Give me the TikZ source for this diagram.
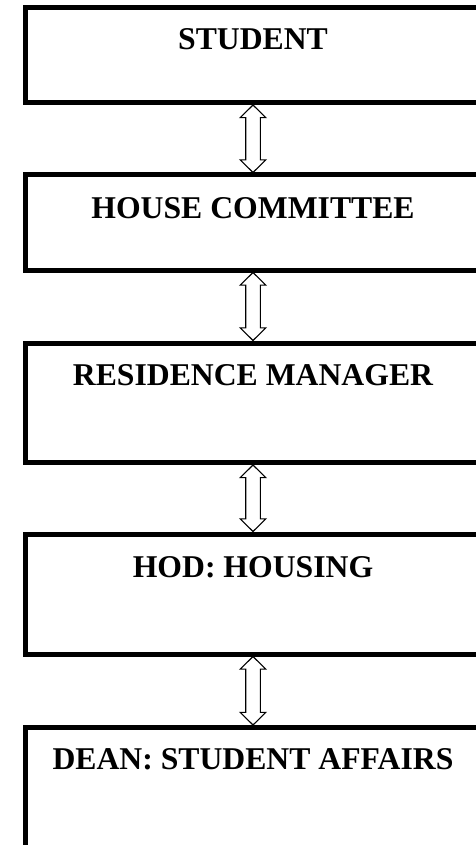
\documentclass[tikz,border=0pt]{standalone}
\usepackage{fontspec}
\setmainfont{Liberation Serif}
\usetikzlibrary{calc}
\tikzset{
  box/.style={draw=black, line width=5pt, rectangle, minimum width=456pt, outer sep=0pt, inner sep=0pt},
  lbl/.style={font=\fontsize{31.7}{36}\selectfont\bfseries, inner sep=0pt, anchor=base},
  dblarrow/.style={draw=black, line width=1.1pt, fill=white, line join=miter}
}
\newcommand{\linkarrow}[2]{%
  \draw[dblarrow]
    ($(#1.south)+(0,2.5)$) coordinate (t)
    -- ++(12.7,12.6) -- ++(-5.4,0) |- ($(#2.north)+(7.3,-15.1)$)
    -- ++(5.4,0) -- ($(#2.north)+(0,-2.5)$)
    -- ++(-12.7,-12.6) -- ++(5.4,0) |- ($(t)+(-7.3,12.6)$)
    -- ++(-5.4,0) -- cycle;}
\begin{document}
\begin{tikzpicture}[x=1pt,y=-1pt]
\useasboundingbox (0,0) rectangle (475,845);
\node[box, minimum height=95pt]    (b1) at (253,55) {};
\node[box, minimum height=95pt]    (b2) at (253,222.5) {};
\node[box, minimum height=119.5pt] (b3) at (253,402.75) {};
\node[box, minimum height=120pt]   (b4) at (253,594) {};
\node[box, minimum height=119.5pt] (b5) at (253,787.25) {};
\node[lbl] (l1) at ($(b1.north)+(0,42.5)$) {STUDENT};
\node[lbl] (l2) at ($(b2.north)+(0,43)$) {HOUSE COMMITTEE};
\node[lbl] (l3) at ($(b3.north)+(0,42)$) {RESIDENCE MANAGER};
\node[lbl] (l4) at ($(b4.north)+(0,43)$) {HOD: HOUSING};
\node[lbl] (l5) at ($(b5.north)+(0,42)$) {DEAN: STUDENT AFFAIRS};
\linkarrow{b1}{b2}
\linkarrow{b2}{b3}
\linkarrow{b3}{b4}
\linkarrow{b4}{b5}
\end{tikzpicture}
\end{document}
